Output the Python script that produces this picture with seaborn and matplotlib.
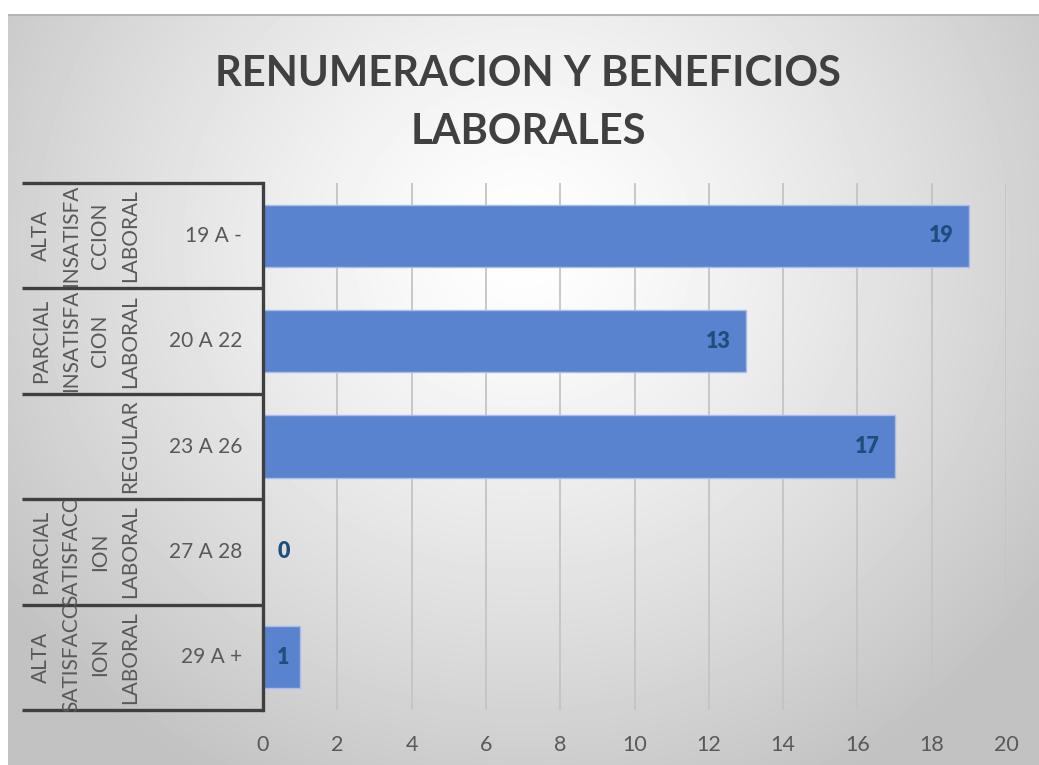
import numpy as np
import matplotlib
matplotlib.use("Agg")
import matplotlib.pyplot as plt
import matplotlib.transforms as mtrans
import pandas as pd
import seaborn as sns

# data
outer_labels = ["ALTA\nINSATISFA\nCCION\nLABORAL",
                "PARCIAL\nINSATISFA\nCION\nLABORAL",
                "REGULAR",
                "PARCIAL\nSATISFACC\nION\nLABORAL",
                "ALTA\nSATISFACC\nION\nLABORAL"]
inner_labels = ["19 A -", "20 A 22", "23 A 26", "27 A 28", "29 A +"]
values = [19, 13, 17, 0, 1]
x_ticks = list(range(0, 21, 2))
title = "RENUMERACION Y BENEFICIOS\nLABORALES"

df = pd.DataFrame({"rango": inner_labels, "n": values})

sns.set_style("white")
plt.rcParams["font.family"] = ["Lato", "DejaVu Sans"]

W, H = 1039, 765
fig = plt.figure(figsize=(W / 100, H / 100), dpi=100)
fig.patch.set_facecolor("white")

# radial gradient background of the chart area
bg = fig.add_axes([8 / W, 0, 1 - 8 / W, 1 - 14 / H])
yy, xx = np.mgrid[0:751, 0:1031]
r = np.hypot(xx - 515, (yy - 230) * 1.05) / 640
r = np.clip(r, 0, 1)
shade = 1.0 - 0.24 * r ** 1.3
bg.imshow(shade, cmap="gray", vmin=0, vmax=1, aspect="auto", interpolation="bilinear")
bg.axhline(0, color="#b5b5b5", lw=1.5)
bg.set_axis_off()

# main plot area
ax = fig.add_axes([263 / W, 1 - 710 / H, (1006 - 263) / W, (710 - 183) / H])
ax.patch.set_alpha(0)
sns.barplot(data=df, x="n", y="rango", orient="h", color="#5a83cf",
            width=0.59, edgecolor="#a9bde6", linewidth=1.0, saturation=1, ax=ax)
ax.set_xlim(0, 20)
ax.set_xticks(x_ticks)
ax.set_xlabel("")
ax.set_ylabel("")
ax.set_yticklabels([])
ax.tick_params(axis="x", length=0, pad=18, labelsize=15.5, labelcolor="#595959")
ax.tick_params(axis="y", length=0)
ax.grid(axis="x", color="#c4c4c4", lw=1.3)
ax.set_axisbelow(True)
for s in ["top", "right", "bottom"]:
    ax.spines[s].set_visible(False)
ax.spines["left"].set_color("#3f3f3f")
ax.spines["left"].set_linewidth(2.4)

# data labels
for i, v in enumerate(values):
    if v > 2:
        ax.text(v - 0.4, i, str(v), ha="right", va="center", fontsize=15.5,
                fontweight="heavy", color="#1f4e7d")
    else:
        ax.text(0.55, i, str(v), ha="center", va="center", fontsize=15.5,
                fontweight="heavy", color="#1f4e7d")

# two-level category table on the left
trans = mtrans.blended_transform_factory(fig.transFigure, ax.transData)
for b in np.arange(-0.5, len(values), 1.0):
    ax.plot([22 / W, 263 / W], [b, b], transform=trans, color="#3f3f3f",
            lw=2.4, clip_on=False, solid_capstyle="butt")
for i, (o, n) in enumerate(zip(outer_labels, inner_labels)):
    ax.text(242 / W, i, n, transform=trans, ha="right", va="center",
            fontsize=15, color="#595959")
    ax.text(140 / W, i, o, transform=trans, ha="right", va="center",
            rotation=90, multialignment="center", fontsize=15,
            color="#595959", linespacing=1.6)
ax.set_ylim(len(values) - 0.5, -0.5)

fig.text(528 / W, 1 - 103 / H, title, ha="center", va="center", fontsize=30,
         fontweight="bold", color="#404040", linespacing=1.62)

fig.savefig("out.png", dpi=100)
